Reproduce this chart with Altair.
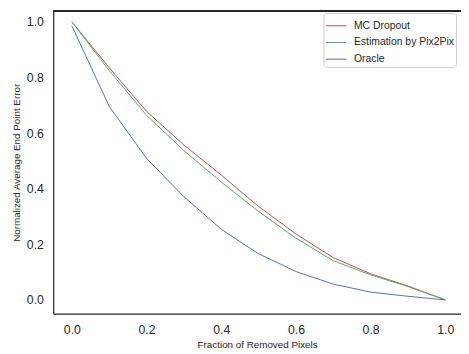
import altair as alt
import pandas as pd

fractions = [0.0, 0.1, 0.2, 0.3, 0.4, 0.5, 0.6, 0.7, 0.8, 0.9, 1.0]
mc_dropout = [1.0, 0.835, 0.678, 0.557, 0.449, 0.336, 0.237, 0.152, 0.094, 0.050, 0.0]
pix2pix = [1.0, 0.825, 0.664, 0.537, 0.424, 0.318, 0.222, 0.141, 0.090, 0.048, 0.0]
oracle = [0.986, 0.696, 0.509, 0.371, 0.254, 0.166, 0.102, 0.057, 0.028, 0.013, 0.0]

series_names = ["MC Dropout", "Estimation by Pix2Pix", "Oracle"]
series_colors = ["#C44E52", "#55A868", "#4C72B0"]
x_ticks = [0.0, 0.2, 0.4, 0.6, 0.8, 1.0]
y_ticks = [0.0, 0.2, 0.4, 0.6, 0.8, 1.0]

rows = []
for name, vals in zip(series_names, [mc_dropout, pix2pix, oracle]):
    for i, (f, v) in enumerate(zip(fractions, vals)):
        rows.append({"fraction": f, "error": v, "series": name, "order": i})
df = pd.DataFrame(rows)

W, H = 415, 308
EDGE = "#262626"
FONT = "Liberation Sans"

lines = alt.Chart(df).mark_line(strokeWidth=1, clip=True).encode(
    x=alt.X("fraction:Q",
            scale=alt.Scale(domain=[-0.05, 1.042], nice=False, zero=False),
            axis=alt.Axis(values=x_ticks, format=".1f", title="Fraction of Removed Pixels",
                          grid=False, ticks=False, labelPadding=10, titlePadding=4)),
    y=alt.Y("error:Q",
            scale=alt.Scale(domain=[-0.0495, 1.039], nice=False, zero=False),
            axis=alt.Axis(values=y_ticks, format=".1f", title="Normalized Average End Point Error",
                          grid=False, ticks=False, labelPadding=10, titlePadding=5)),
    color=alt.Color("series:N",
                    scale=alt.Scale(domain=series_names, range=series_colors),
                    sort=series_names,
                    legend=alt.Legend(title=None, orient="none", legendX=275, legendY=2,
                                      symbolType="stroke", symbolSize=441, symbolStrokeWidth=1,
                                      labelFontSize=10.6, labelColor=EDGE, labelFont=FONT,
                                      strokeColor="#cccccc", fillColor="white", cornerRadius=3,
                                      padding=2, rowPadding=0, labelOffset=7)),
    order="order:Q",
    detail="series:N",
)

top_rule = alt.Chart(df).mark_rule(color=EDGE, strokeWidth=1.25).encode(
    x=alt.value(0), x2=alt.value(W), y=alt.value(0)
)

chart = alt.layer(lines, top_rule).properties(
    width=W, height=H,
    background="white",
    autosize=alt.AutoSizeParams(type="none"),
    padding={"left": 46, "top": 0, "right": 0, "bottom": 40},
).configure_view(stroke=None).configure_axis(
    domainColor=EDGE, domainWidth=1.25, labelColor=EDGE, titleColor=EDGE,
    labelFont=FONT, titleFont=FONT, labelFontSize=12.5, titleFontSize=10,
    titleFontWeight="normal",
)

chart.save("out.html", embed_options={"renderer": "svg", "actions": False})
